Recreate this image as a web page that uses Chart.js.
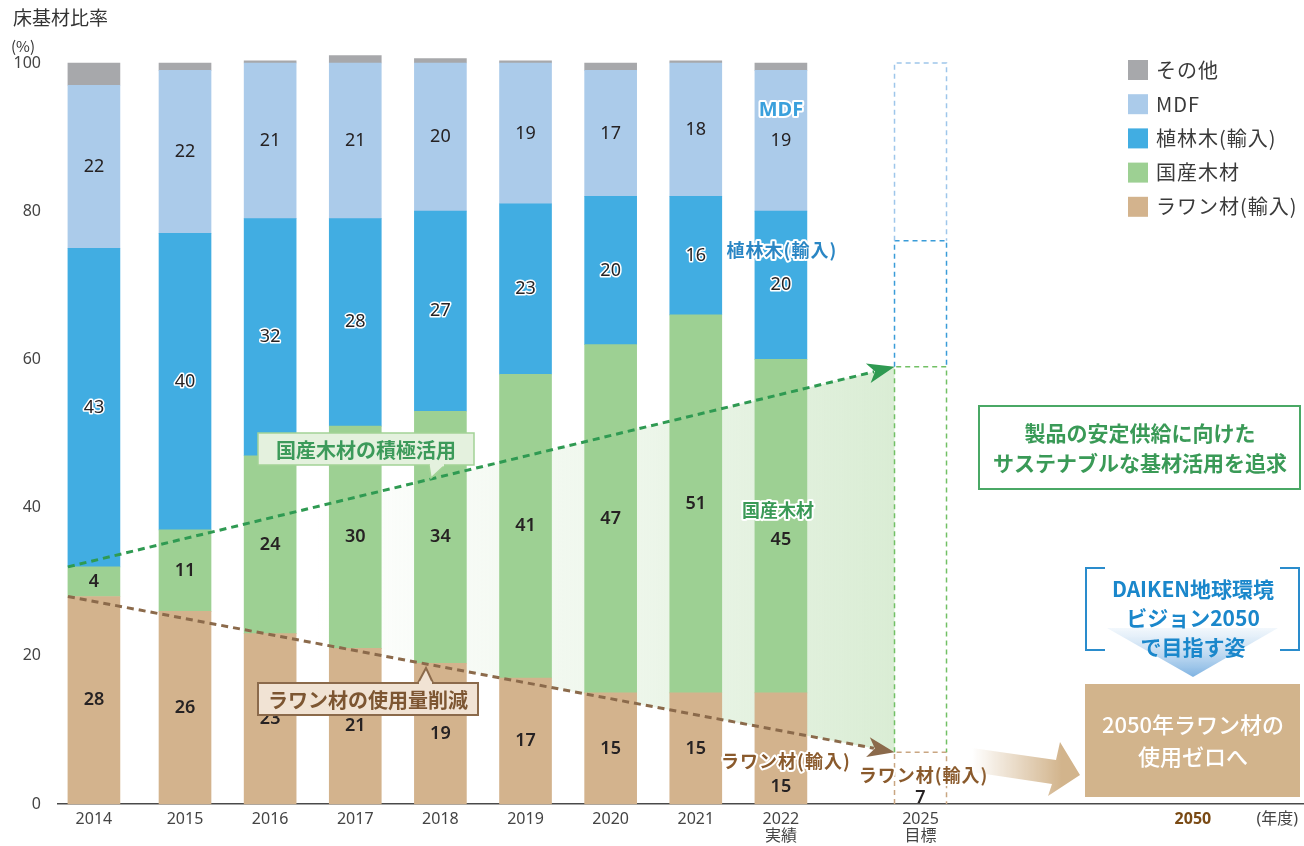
<!DOCTYPE html>
<html lang="ja">
<head>
<meta charset="utf-8">
<title>床基材比率</title>
<script src="https://cdn.jsdelivr.net/npm/chart.js@4.4.1/dist/chart.umd.min.js"></script>
<style>
  html, body { margin: 0; padding: 0; background: #fff; }
  #wrap { position: relative; width: 1304px; height: 846px; }
</style>
</head>
<body>
<div id="wrap"><canvas id="floorChart"></canvas></div>
<script>
// ---- data ----
const years = ['2014', '2015', '2016', '2017', '2018', '2019', '2020', '2021', '2022', '2025'];
const yearPos = [-0.07, 1, 2, 3, 4, 5, 6, 7, 8, 9.64];

// shares of floor base material (%), bottom to top of each stack
const lauan      = [28, 26, 23, 21, 19, 17, 15, 15, 15, 7];
const domestic   = [4, 11, 24, 30, 34, 41, 47, 51, 45, 52];
const plantation = [43, 40, 32, 28, 27, 23, 20, 16, 20, 17];
const mdf        = [22, 22, 21, 21, 20, 19, 17, 18, 19, 24];
const other      = [3, 1, 0.3, 1, 0.6, 0.3, 1, 0.3, 1, 0];

const seriesNames = ['ラワン材(輸入)', '国産木材', '植林木(輸入)', 'MDF', 'その他'];

// x axis ticks: fiscal years plus the 2050 goal and the unit
const tickPos = [-0.07, 1, 2, 3, 4, 5, 6, 7, 8, 9.64, 12.84, 13.83];
const tickText = ['2014', '2015', '2016', '2017', '2018', '2019', '2020', '2021',
  ['2022', '実績'], ['2025', '目標'], '2050', '(年度)'];

const TARGET = 9; // index of the 2025 target column

const JP = '"Noto Sans CJK JP", "Noto Sans", sans-serif';
const NUM = '"Noto Sans", "Noto Sans CJK JP", sans-serif';

const fills = ['#d3b38d', '#9dd093', '#41ade2', '#abcbea', '#a7a8ab'];
const dashColors = ['#c9a682', '#72c065', '#3a9cd8', '#9ec6ea'];

const seriesValues = [lauan, domestic, plantation, mdf, other];

// ---- helpers ----
function haloText(ctx, text, x, y, font, color, halo, spacing) {
  ctx.save();
  ctx.font = font;
  ctx.letterSpacing = (spacing || 0) + 'px';
  ctx.textAlign = 'center';
  ctx.textBaseline = 'middle';
  if (halo) {
    ctx.lineJoin = 'round';
    ctx.lineWidth = halo;
    ctx.strokeStyle = '#fff';
    ctx.strokeText(text, x, y);
  }
  ctx.fillStyle = color;
  ctx.fillText(text, x, y);
  ctx.restore();
}

function dashedArrow(ctx, x1, y1, x2, y2, color) {
  const ang = Math.atan2(y2 - y1, x2 - x1);
  const head = 27, half = 10;
  const bx = x2 - Math.cos(ang) * head, by = y2 - Math.sin(ang) * head;
  ctx.save();
  ctx.strokeStyle = color;
  ctx.lineWidth = 3;
  ctx.setLineDash([7, 5]);
  ctx.beginPath();
  ctx.moveTo(x1, y1);
  ctx.lineTo(bx + Math.cos(ang) * 6, by + Math.sin(ang) * 6);
  ctx.stroke();
  ctx.setLineDash([]);
  ctx.fillStyle = color;
  ctx.beginPath();
  ctx.moveTo(x2, y2);
  ctx.lineTo(bx - Math.sin(ang) * half, by + Math.cos(ang) * half);
  ctx.lineTo(bx + Math.cos(ang) * 7, by + Math.sin(ang) * 7);
  ctx.lineTo(bx + Math.sin(ang) * half, by - Math.cos(ang) * half);
  ctx.closePath();
  ctx.fill();
  ctx.restore();
}

// left edge + stacked top of a column, in pixels
function stackEdge(chart, idx, value) {
  const el = chart.getDatasetMeta(0).data[idx];
  return { x: el.x - el.width / 2, y: chart.scales.y.getPixelForValue(value) };
}

// ---- plugins ----
const haze = {
  id: 'haze',
  beforeDatasetsDraw(chart) {
    const ctx = chart.ctx;
    const g0 = stackEdge(chart, 0, lauan[0] + domestic[0]);
    const g1 = stackEdge(chart, TARGET, lauan[TARGET] + domestic[TARGET]);
    const b0 = stackEdge(chart, 0, lauan[0]);
    const b1 = stackEdge(chart, TARGET, lauan[TARGET]);
    const grad = ctx.createLinearGradient(g0.x + (g1.x - g0.x) * 0.3, 0, g1.x, 0);
    grad.addColorStop(0, 'rgba(200,228,192,0)');
    grad.addColorStop(0.55, 'rgba(200,228,192,0.32)');
    grad.addColorStop(1, 'rgba(200,228,192,0.68)');
    ctx.save();
    ctx.fillStyle = grad;
    ctx.beginPath();
    ctx.moveTo(g0.x, g0.y);
    ctx.lineTo(g1.x, g1.y);
    ctx.lineTo(b1.x, b1.y);
    ctx.lineTo(b0.x, b0.y);
    ctx.closePath();
    ctx.fill();
    ctx.restore();
  }
};

const targetOutline = {
  id: 'targetOutline',
  afterDatasetsDraw(chart) {
    const ctx = chart.ctx;
    ctx.save();
    ctx.lineWidth = 1.5;
    ctx.setLineDash([5, 4]);
    for (let i = 0; i < 4; i++) {
      const el = chart.getDatasetMeta(i).data[TARGET];
      const l = el.x - el.width / 2, r = el.x + el.width / 2;
      ctx.strokeStyle = dashColors[i];
      ctx.beginPath();
      ctx.moveTo(l, el.base);
      ctx.lineTo(l, el.y);
      ctx.lineTo(r, el.y);
      ctx.lineTo(r, el.base);
      ctx.stroke();
    }
    ctx.restore();
  }
};

const trendArrows = {
  id: 'trendArrows',
  afterDatasetsDraw(chart) {
    const ctx = chart.ctx;
    const g0 = stackEdge(chart, 0, lauan[0] + domestic[0]);
    const g1 = stackEdge(chart, TARGET, lauan[TARGET] + domestic[TARGET]);
    const b0 = stackEdge(chart, 0, lauan[0]);
    const b1 = stackEdge(chart, TARGET, lauan[TARGET]);
    dashedArrow(ctx, g0.x, g0.y, g1.x, g1.y, '#2f9a52');
    dashedArrow(ctx, b0.x, b0.y, b1.x, b1.y, '#8b6a4b');
  }
};

// value labels inside the segments
const segmentLabels = {
  id: 'segmentLabels',
  afterDatasetsDraw(chart) {
    const ctx = chart.ctx;
    const nudge = { '0-8': 38, '1-8': 14, '0-9': 20 };
    for (let i = 0; i < 4; i++) {
      const meta = chart.getDatasetMeta(i);
      meta.data.forEach((el, j) => {
        if (j === TARGET && i > 0) return;
        const mid = (el.y + el.base) / 2 + (nudge[i + '-' + j] || 0);
        const bold = i < 2;
        const font = (bold ? '600 ' : '400 ') + '18px ' + NUM;
        haloText(ctx, String(seriesValues[i][j]), el.x, mid, font, '#262223', i === 2 ? 3 : 0);
      });
    }
  }
};

function callout(ctx, box, tail, fill, stroke, lw, text, color) {
  ctx.save();
  ctx.fillStyle = fill;
  ctx.strokeStyle = stroke;
  ctx.lineWidth = lw;
  ctx.beginPath();
  ctx.rect(box.x, box.y, box.w, box.h);
  ctx.fill();
  ctx.stroke();
  ctx.beginPath();
  ctx.moveTo(tail[0][0], tail[0][1]);
  ctx.lineTo(tail[1][0], tail[1][1]);
  ctx.lineTo(tail[2][0], tail[2][1]);
  ctx.fill();
  ctx.stroke();
  // cover the box edge under the tail
  ctx.beginPath();
  ctx.moveTo(tail[0][0] + 1, tail[0][1]);
  ctx.lineTo(tail[2][0] - 1, tail[2][1]);
  ctx.lineWidth = lw + 1;
  ctx.strokeStyle = fill;
  ctx.stroke();
  ctx.restore();
  haloText(ctx, text, box.x + box.w / 2, box.y + box.h / 2 + 1, 'bold 20px ' + JP, color, 0);
}

const annotations = {
  id: 'annotations',
  afterDraw(chart) {
    const ctx = chart.ctx;

    // heading and unit
    ctx.save();
    ctx.textAlign = 'left';
    ctx.textBaseline = 'middle';
    ctx.fillStyle = '#333';
    ctx.font = '400 19px ' + JP;
    ctx.fillText('床基材比率', 13, 18);
    ctx.font = '400 15px ' + JP;
    ctx.fillText('(%)', 11, 46);
    ctx.restore();

    // legend, top of stack first
    ctx.save();
    ctx.textAlign = 'left';
    ctx.textBaseline = 'middle';
    ctx.font = '400 20px ' + JP;
    ctx.letterSpacing = '1px';
    const ds = chart.data.datasets;
    for (let k = 0; k < ds.length; k++) {
      const i = ds.length - 1 - k;
      const y = 70 + k * 34.2;
      ctx.fillStyle = fills[i];
      ctx.fillRect(1128, y - 10, 20, 20);
      ctx.fillStyle = '#3a3a3a';
      ctx.fillText(ds[i].label, 1156, y);
    }
    ctx.restore();

    // series names written on the 2022 column
    const col = chart.getDatasetMeta(0).data[8].x;
    haloText(ctx, 'MDF', col, 110, 'bold 20px ' + NUM, '#3aa0dc', 4);
    haloText(ctx, '植林木(輸入)', col + 1, 250, 'bold 18px ' + JP, '#2a86c4', 4, 1);
    haloText(ctx, '国産木材', col - 3, 510, 'bold 18px ' + JP, '#3a9a57', 4);
    haloText(ctx, 'ラワン材(輸入)', col + 5, 761, 'bold 18px ' + JP, '#8a5a2c', 4, 1);
    const tcol = chart.getDatasetMeta(0).data[TARGET].x;
    haloText(ctx, 'ラワン材(輸入)', tcol + 3, 775, 'bold 18px ' + JP, '#8a5a2c', 4, 1);

    // callouts on the trend arrows
    callout(ctx, { x: 258, y: 433, w: 216, h: 32 },
      [[429, 465], [431, 478], [445, 465]],
      '#e4f1de', '#a3d296', 1.5, '国産木材の積極活用', '#3c9a5a');
    callout(ctx, { x: 258, y: 683, w: 220, h: 32 },
      [[418, 683], [426, 668], [433, 683]],
      '#f1e3d4', '#8b6a4b', 2, 'ラワン材の使用量削減', '#7d5632');

    // policy box
    ctx.save();
    ctx.strokeStyle = '#4aa865';
    ctx.lineWidth = 2;
    ctx.strokeRect(979, 406, 321, 83);
    ctx.restore();
    haloText(ctx, '製品の安定供給に向けた', 1140, 433, 'bold 21px ' + JP, '#3a9a57', 0);
    haloText(ctx, 'サステナブルな基材活用を追求', 1140, 463, 'bold 21px ' + JP, '#3a9a57', 0);

    // vision 2050 bracket with pointer
    ctx.save();
    const tri = ctx.createLinearGradient(0, 628, 0, 677);
    tri.addColorStop(0, 'rgba(170,205,236,0.15)');
    tri.addColorStop(1, 'rgba(120,175,225,0.95)');
    ctx.fillStyle = tri;
    ctx.beginPath();
    ctx.moveTo(1107, 628);
    ctx.lineTo(1278, 628);
    ctx.lineTo(1193, 677);
    ctx.closePath();
    ctx.fill();
    ctx.strokeStyle = '#2a8ccc';
    ctx.lineWidth = 2;
    ctx.beginPath();
    ctx.moveTo(1105, 568); ctx.lineTo(1086, 568); ctx.lineTo(1086, 650); ctx.lineTo(1105, 650);
    ctx.moveTo(1280, 568); ctx.lineTo(1299, 568); ctx.lineTo(1299, 650); ctx.lineTo(1280, 650);
    ctx.stroke();
    ctx.restore();
    haloText(ctx, 'DAIKEN地球環境', 1193, 589, 'bold 21px ' + JP, '#1a87cb', 0);
    haloText(ctx, 'ビジョン2050', 1193, 618, 'bold 21px ' + JP, '#1a87cb', 0);
    haloText(ctx, 'で目指す姿', 1193, 647, 'bold 21px ' + JP, '#1a87cb', 0);

    // wide arrow into the 2050 goal box
    ctx.save();
    const ag = ctx.createLinearGradient(972, 0, 1062, 0);
    ag.addColorStop(0, 'rgba(210,180,140,0)');
    ag.addColorStop(1, 'rgba(210,180,140,1)');
    ctx.fillStyle = ag;
    ctx.beginPath();
    ctx.moveTo(972, 748);
    ctx.lineTo(1056, 760);
    ctx.lineTo(1060, 742);
    ctx.lineTo(1080, 775);
    ctx.lineTo(1048, 796);
    ctx.lineTo(1052, 784);
    ctx.lineTo(972, 772);
    ctx.closePath();
    ctx.fill();
    ctx.fillStyle = '#d2b48c';
    ctx.fillRect(1085, 684, 215, 113);
    ctx.restore();
    haloText(ctx, '2050年ラワン材の', 1193, 725, '500 22px ' + JP, '#fff', 0);
    haloText(ctx, '使用ゼロへ', 1193, 757, '500 22px ' + JP, '#fff', 0);
  }
};

// ---- chart ----
new Chart(document.getElementById('floorChart'), {
  type: 'bar',
  data: {
    datasets: seriesValues.map((vals, i) => ({
      label: seriesNames[i],
      data: vals.map((v, j) => ({ x: yearPos[j], y: v })),
      backgroundColor: ctx => ctx.dataIndex === TARGET ? 'rgba(0,0,0,0)' : fills[i],
      borderWidth: 0,
      barThickness: 52,
      clip: false
    }))
  },
  options: {
    responsive: true,
    maintainAspectRatio: false,
    animation: false,
    layout: { padding: { top: 63, right: 0, bottom: 0, left: 0 } },
    plugins: {
      legend: { display: false },
      tooltip: { enabled: false },
      title: { display: false }
    },
    scales: {
      x: {
        type: 'linear',
        stacked: true,
        offset: false,
        min: -0.492,
        max: 14.143,
        afterBuildTicks(scale) {
          scale.ticks = tickPos.map(v => ({ value: v }));
        },
        afterFit(scale) { scale.height = 42; },
        grid: { display: false, drawTicks: false, offset: false },
        border: { display: true, color: '#4a4a4a', width: 1.5 },
        ticks: {
          autoSkip: false,
          maxRotation: 0,
          padding: 6,
          callback: (value, index) => tickText[index],
          color: ctx => ctx.index === 10 ? '#7a4a14' : '#444',
          font: ctx => ({
            family: NUM,
            size: 16,
            weight: ctx.index === 10 ? 'bold' : 'normal',
            lineHeight: 1.12
          })
        }
      },
      y: {
        stacked: true,
        min: 0,
        max: 100,
        afterFit(scale) { scale.width = 58; },
        grid: { display: false, drawTicks: false },
        border: { display: false },
        ticks: {
          stepSize: 20,
          padding: 17,
          color: '#444',
          font: { family: NUM, size: 16 }
        }
      }
    }
  },
  plugins: [haze, targetOutline, trendArrows, segmentLabels, annotations]
});
</script>
</body>
</html>
